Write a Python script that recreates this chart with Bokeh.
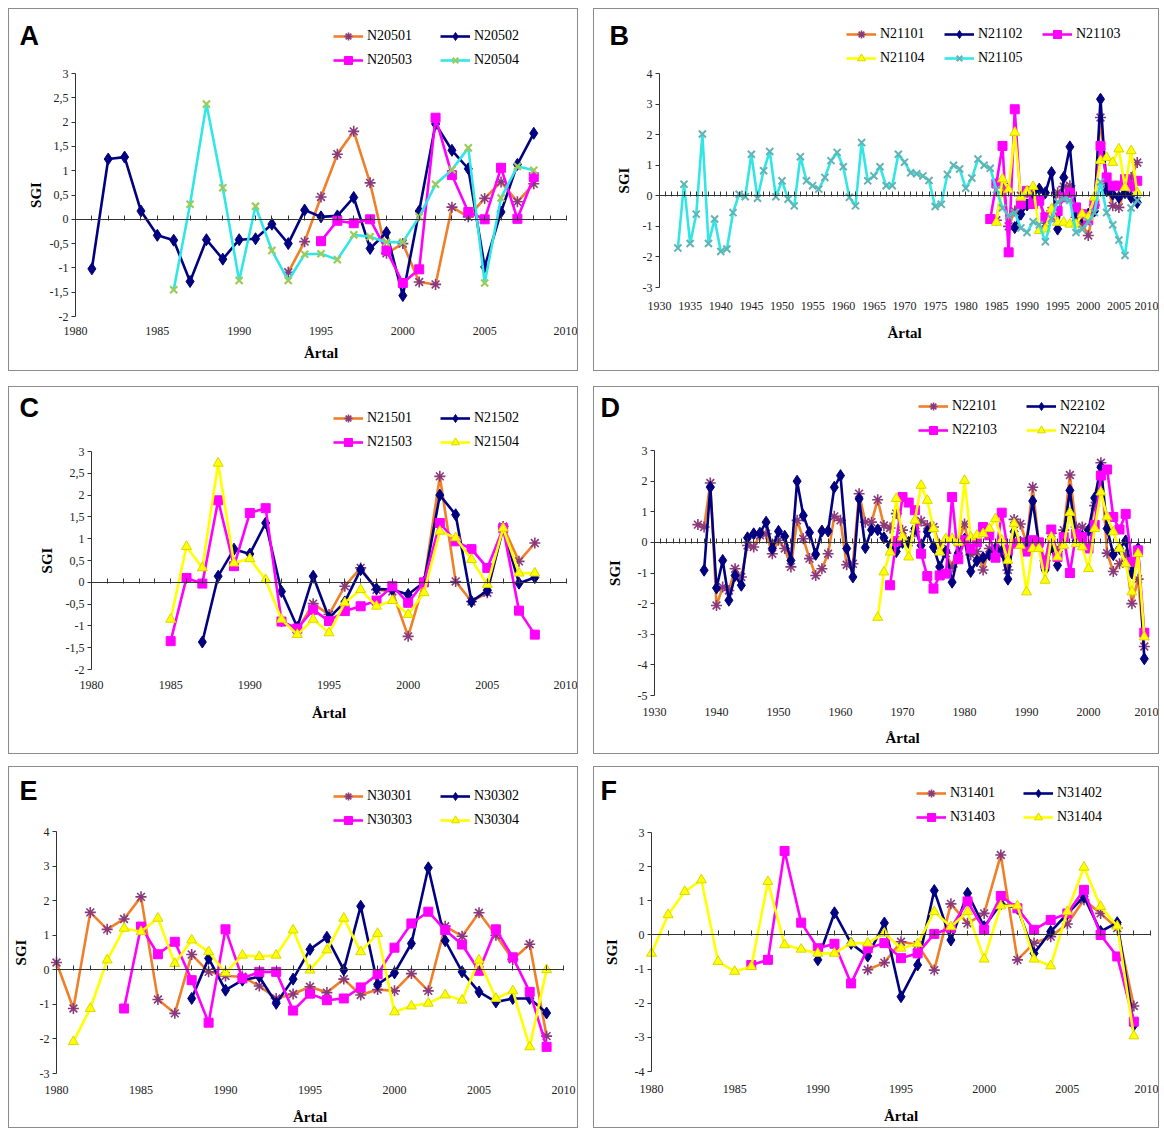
from bokeh.plotting import figure
from bokeh.models import (Range1d, LinearAxis, FixedTicker, CustomJSTickFormatter,
                          Legend, LegendItem, Label, ColumnDataSource)
from bokeh.layouts import row, column
from bokeh.embed import file_html
from bokeh.resources import INLINE

SERIF = "Liberation Serif"
SANS = "Liberation Sans"

# ---------------- data ----------------
# Panel A
A_NAMES = ["N20501", "N20502", "N20503", "N20504"]
A_START = [1993, 1981, 1995, 1986]
A_N20501 = [-1.09, -0.46, 0.46, 1.34, 1.81, 0.75, -0.70, -0.50, -1.29, -1.34, 0.25, 0.05, 0.43, 0.77, 0.36, 0.73]
A_N20502 = [-1.02, 1.24, 1.28, 0.17, -0.33, -0.43, -1.28, -0.42, -0.82, -0.42, -0.40, -0.10, -0.50, 0.19,
            0.05, 0.07, 0.45, -0.60, -0.27, -1.57, 0.17, 1.96, 1.42, 1.04, -0.98, 0.15, 1.13, 1.77]
A_N20503 = [-0.45, -0.03, -0.08, 0.00, -0.64, -1.31, -1.03, 2.09, 0.91, 0.15, 0.00, 1.06, 0.01, 0.87]
A_N20504 = [-1.45, 0.31, 2.37, 0.65, -1.26, 0.27, -0.64, -1.26, -0.72, -0.71, -0.83, -0.32, -0.36, -0.47,
            -0.47, 0.05, 0.72, 1.02, 1.47, -1.31, 0.44, 1.09, 1.01]
A_XTICKS = [1980, 1985, 1990, 1995, 2000, 2005, 2010]
A_YTICKS = [-2, -1.5, -1, -0.5, 0, 0.5, 1, 1.5, 2, 2.5, 3]

# Panel B
B_NAMES = ["N21101", "N21102", "N21103", "N21104", "N21105"]
B_START = [1985, 1988, 1984, 1985, 1933]
B_N21101 = [-0.80, 0.40, -1.00, -0.50, 0.00, 0.10, -0.20, -0.10, -0.90, -0.50, 0.10, 0.30, 0.33, -0.70,
            -0.90, -1.30, -0.30, 2.56, 0.40, -0.33, -0.38, 0.20, 0.60, 1.09]
B_N21102 = [-1.04, -0.60, -0.30, 0.10, 0.22, 0.10, 0.76, -1.09, 0.60, 1.60, -0.65, -0.70, -0.60, -0.50,
            3.16, 0.16, 0.05, -0.05, 0.10, -0.05, -0.22]
B_N21103 = [-0.76, 0.40, 1.63, -1.85, 2.83, -0.27, 0.16, -0.27, -0.16, -0.70, -0.70, -0.50, -0.05, 0.10,
            -0.38, -0.60, -0.80, -0.27, 1.63, 0.60, 0.33, 0.33, 0.55, 0.30, 0.49]
B_N21104 = [-0.87, 0.55, 0.20, 2.07, -0.05, 0.15, 0.30, -1.14, -1.09, -0.44, -0.87, -0.87, -0.93, -0.93,
            -0.60, -0.70, -0.05, 1.15, 1.25, 1.09, 1.53, 0.27, 1.47, 0.10]
B_N21105 = [-1.71, 0.38, -1.56, -0.60, 2.02, -1.56, -0.76, -1.82, -1.74, -0.55, 0.05, -0.03, 1.36, -0.08,
            0.82, 1.45, -0.03, 0.49, -0.11, -0.33, 1.28, 0.49, 0.33, 0.22, 0.60, 1.15, 1.42, 0.95,
            -0.05, -0.33, 1.74, 0.49, 0.65, 0.95, 0.33, 0.33, 1.36, 1.10, 0.75, 0.72, 0.65, 0.50,
            -0.35, -0.28, 0.70, 1.00, 0.88, 0.25, 0.58, 1.20, 1.00, 0.90, 0.20, -0.40, -0.65, -0.55,
            -1.05, -1.20, -0.85, -0.95, -1.50, -0.75, -0.20, -0.10, -0.15, -1.20, -1.10, -0.85, -0.55,
            0.45, -0.55, -0.95, -1.45, -1.95, -0.40, -0.15]
B_XTICKS = [1930, 1935, 1940, 1945, 1950, 1955, 1960, 1965, 1970, 1975, 1980, 1985, 1990, 1995, 2000, 2005, 2010]
B_YTICKS = [-3, -2, -1, 0, 1, 2, 3, 4]

# Panel C
C_NAMES = ["N21501", "N21502", "N21503", "N21504"]
C_START = [1992, 1987, 1985, 1985]
C_N21501 = [-0.90, -1.10, -0.49, -0.74, -0.09, 0.33, -0.17, -0.21, -1.24, 0.00, 2.43, 0.02, -0.44, -0.24,
            1.28, 0.48, 0.90]
C_N21502 = [-1.37, 0.14, 0.76, 0.65, 1.36, -0.21, -1.03, 0.14, -0.82, -0.45, 0.29, -0.15, -0.17, -0.28,
            0.00, 2.00, 1.55, -0.44, -0.19, 1.24, -0.02, 0.11]
C_N21503 = [-1.35, 0.10, -0.03, 1.88, 0.37, 1.59, 1.70, -0.90, -1.06, -0.63, -0.89, -0.66, -0.55, -0.42,
            -0.09, -0.47, 0.00, 1.36, 0.94, 0.76, 0.33, 1.24, -0.65, -1.20]
C_N21504 = [-0.85, 0.82, 0.33, 2.73, 0.44, 0.54, 0.06, -0.85, -1.20, -0.85, -1.16, -0.47, -0.17, -0.55,
            -0.42, -0.74, -0.24, 1.17, 1.02, 0.52, -0.05, 1.24, 0.21, 0.21]
C_XTICKS = [1980, 1985, 1990, 1995, 2000, 2005, 2010]
C_YTICKS = [-2, -1.5, -1, -0.5, 0, 0.5, 1, 1.5, 2, 2.5, 3]

# Panel D
D_NAMES = ["N22101", "N22102", "N22103", "N22104"]
D_START = [1937, 1938, 1968, 1966]
D_N22101 = [0.58, 0.50, 1.94, -2.06, -1.46, -1.57, -0.86, -1.13, -0.10, -0.15, 0.23, 0.28, -0.37, 0.07,
            -0.20, -0.80, 0.72, 0.12, -0.53, -1.08, -0.86, -0.37, 0.85, 0.72, -0.73, -0.70, 1.59, 0.66,
            0.66, 1.39, 0.55, 0.47, 0.94, 0.40, 0.00, 0.35, 0.70, 0.55, 0.50, -0.10, -0.35, -0.80,
            0.00, 0.60, -0.40, -0.30, -0.90, -0.20, -0.20, -0.20, -0.90, 0.75, 0.60, 0.00, 1.80, -0.05,
            -0.60, 0.30, -0.30, 0.40, 2.20, 0.50, 0.50, 0.30, 1.20, 2.60, -0.35, -0.95, -0.70, -0.40,
            -2.00, -1.20, -3.40]
D_N22102 = [-0.91, 1.80, -1.49, -0.59, -1.89, -1.08, -1.40, 0.15, 0.28, 0.30, 0.66, -0.20, 0.36, 0.20,
            -0.59, 2.00, 0.88, 0.32, -0.39, 0.37, 0.37, 1.80, 2.18, -0.20, -1.13, 1.42, -0.17, 0.41,
            0.41, 0.15, -0.10, -0.30, 0.00, 0.00, 0.45, -0.10, 0.35, -0.15, -0.80, -0.30, -1.30, -0.35,
            0.10, -0.95, -0.60, -0.50, -0.40, -0.20, -0.30, -1.20, 0.35, 0.00, 0.00, 1.35, -0.05, -0.90,
            -0.15, -0.75, 0.25, 1.70, 0.05, 0.20, 0.40, 1.45, 2.45, 0.45, -0.40, -0.20, 0.05, -1.00,
            -0.20, -3.80]
D_N22103 = [-1.40, 0.04, 1.48, 1.30, 1.05, -0.37, -1.10, -1.51, -1.08, -1.02, 1.48, -0.55, 0.07, -0.20,
            0.00, 0.50, 0.23, -0.50, 0.97, -0.26, -0.04, 0.00, -0.30, 0.07, 0.00, -0.70, 0.42, -0.48,
            0.17, -1.00, 0.28, 0.17, -0.20, 0.57, 2.18, 2.38, 0.83, 0.42, 0.93, -0.64, -0.26, -2.95]
D_N22104 = [-2.45, -0.97, -0.32, 1.43, 0.17, -0.48, 0.72, 1.86, 1.37, 0.45, -0.32, 0.12, 0.12, 0.00,
            2.02, 0.17, 0.23, 0.28, 0.45, 0.77, 0.07, -0.59, 0.61, -0.10, -1.62, -0.20, -0.20, -1.24,
            0.17, -0.48, -0.10, 0.97, -0.04, -0.15, -0.86, 0.45, 1.64, 0.83, 0.34, -0.20, -0.70, -1.62,
            -0.37, -3.09]
D_XTICKS = [1930, 1940, 1950, 1960, 1970, 1980, 1990, 2000, 2010]
D_YTICKS = [-5, -4, -3, -2, -1, 0, 1, 2, 3]

# Panel E
E_NAMES = ["N30301", "N30302", "N30303", "N30304"]
E_START = [1980, 1988, 1984, 1981]
E_N30301 = [0.21, -1.12, 1.66, 1.17, 1.47, 2.11, -0.86, -1.26, 0.44, -0.06, -0.18, -0.20, -0.47, -0.83,
            -0.70, -0.49, -0.66, -0.27, -0.73, -0.57, -0.61, -0.11, -0.61, 1.26, 0.97, 1.65, 1.00, 0.30,
            0.74, -1.92]
E_N30302 = [-0.83, 0.33, -0.59, -0.30, -0.20, -0.97, -0.27, 0.59, 0.94, 0.00, 1.84, -0.42, -0.09, 0.76,
            2.95, 0.84, -0.06, -0.64, -0.93, -0.83, -0.83, -1.25]
E_N30303 = [-1.12, 1.25, 0.45, 0.81, -0.30, -1.53, 1.17, -0.25, -0.06, -0.06, -1.18, -0.69, -0.88, -0.83,
            -0.51, -0.13, 0.64, 1.34, 1.68, 1.15, 0.73, -0.03, 1.17, 0.36, -0.64, -2.23]
E_N30304 = [-2.08, -1.12, 0.28, 1.20, 1.10, 1.49, 0.18, 0.86, 0.52, -0.09, 0.42, 0.38, 0.42, 1.15,
            -0.01, 0.57, 1.49, 0.52, 1.05, -1.22, -1.05, -0.97, -0.73, -0.88, 0.28, -0.83, -0.61, -2.23,
            0.00]
E_XTICKS = [1980, 1985, 1990, 1995, 2000, 2005, 2010]
E_YTICKS = [-3, -2, -1, 0, 1, 2, 3, 4]

# Panel F
F_NAMES = ["N31401", "N31402", "N31403", "N31404"]
F_START = [1993, 1990, 1986, 1980]
F_N31401 = [-1.02, -0.81, -0.20, -0.29, -1.03, 0.91, 0.34, 0.63, 2.34, -0.73, -0.24, -0.05, 0.32, 1.03,
            0.63, 0.20, -2.08]
F_N31402 = [-0.73, 0.65, -0.25, -0.62, 0.35, -1.81, -0.88, 1.30, -0.15, 1.22, 0.24, 0.91, 0.78, -0.54,
            0.10, 0.62, 1.12, 0.10, 0.36, -2.64]
F_N31403 = [-0.88, -0.73, 2.46, 0.36, -0.39, -0.26, -1.42, -0.39, -0.24, -0.68, -0.54, 0.03, 0.20, 0.98,
            0.15, 1.14, 0.78, 0.15, 0.44, 0.63, 1.32, 0.00, -0.63, -2.54]
F_N31404 = [-0.54, 0.59, 1.27, 1.61, -0.78, -1.07, -0.93, 1.56, -0.29, -0.42, -0.54, -0.54, -0.24, -0.24,
            0.05, -0.39, -0.26, 0.68, 0.24, 0.68, -0.71, 0.85, 0.85, -0.71, -0.91, 0.68, 1.98, 0.83,
            0.26, -2.96]
F_XTICKS = [1980, 1985, 1990, 1995, 2000, 2005, 2010]
F_YTICKS = [-4, -3, -2, -1, 0, 1, 2, 3]

# ---------------- styles ----------------
ORANGE = "#F07F2A"
NAVY = "#000080"
MAGENTA = "#FF00FF"
CYAN = "#33E6E6"
YELLOW = "#FFFF00"

STYLES = {
    "ast": dict(line=ORANGE, marker="asterisk", fill=None, mline="#8A3A7C", size=11, mlw=1.6),
    "dia": dict(line=NAVY, marker="diamond", fill=NAVY, mline=NAVY, size=12, mlw=1),
    "sq": dict(line=MAGENTA, marker="square", fill=MAGENTA, mline=MAGENTA, size=9, mlw=1),
    "tri": dict(line=YELLOW, marker="triangle", fill=YELLOW, mline="#D8D800", size=10, mlw=1),
    "xa": dict(line=CYAN, marker="x", fill=None, mline="#9CCB5A", size=10, mlw=2.2),
    "xb": dict(line=CYAN, marker="x", fill=None, mline="#62B4B4", size=10, mlw=2),
}

# layout (pixels inside each panel): frame of the data axes and positions of letter / legend
PANELS = [
    dict(letter="A", w=570, h=363, left=66, right=13, top=64, fh=243, xr=(1980, 2010), yr=(-2, 3),
         xticks=A_XTICKS, yticks=A_YTICKS, names=A_NAMES, starts=A_START,
         values=[A_N20501, A_N20502, A_N20503, A_N20504], kinds=["ast", "dia", "sq", "xa"],
         lpos=(10, 11), legpos=(324, 17), ncols=2, lw=69, ystand=3, xstand=10, xlstand=7),
    dict(letter="B", w=566, h=363, left=65, right=11, top=64, fh=214, xr=(1930, 2010), yr=(-3, 4),
         xticks=B_XTICKS, yticks=B_YTICKS, names=B_NAMES, starts=B_START,
         values=[B_N21101, B_N21102, B_N21103, B_N21104, B_N21105], kinds=["ast", "dia", "sq", "tri", "xb"],
         lpos=(15, 11), legpos=(252, 15), ncols=3, lw=60, ystand=8, xstand=14, xlstand=12),
    dict(letter="C", w=570, h=368, left=82, right=13, top=64, fh=218, xr=(1980, 2010), yr=(-2, 3),
         xticks=C_XTICKS, yticks=C_YTICKS, names=C_NAMES, starts=C_START,
         values=[C_N21501, C_N21502, C_N21503, C_N21504], kinds=["ast", "dia", "sq", "tri"],
         lpos=(10, 5), legpos=(324, 21), ncols=2, lw=69, ystand=8, xstand=11, xlstand=13),
    dict(letter="D", w=566, h=368, left=60, right=10, top=63, fh=245, xr=(1930, 2010), yr=(-5, 3),
         xticks=D_XTICKS, yticks=D_YTICKS, names=D_NAMES, starts=D_START,
         values=[D_N22101, D_N22102, D_N22103, D_N22104], kinds=["ast", "dia", "sq", "tri"],
         lpos=(6, 5), legpos=(324, 9), ncols=2, lw=70, ystand=12, xstand=12, xlstand=11),
    dict(letter="E", w=570, h=362, left=47, right=16, top=64, fh=242, xr=(1980, 2010), yr=(-3, 4),
         xticks=E_XTICKS, yticks=E_YTICKS, names=E_NAMES, starts=E_START,
         values=[E_N30301, E_N30302, E_N30303, E_N30304], kinds=["ast", "dia", "sq", "tri"],
         lpos=(10, 8), legpos=(324, 19), ncols=2, lw=69, ystand=8, xstand=12, xlstand=12),
    dict(letter="F", w=566, h=362, left=57, right=10, top=65, fh=239, xr=(1980, 2010), yr=(-4, 3),
         xticks=F_XTICKS, yticks=F_YTICKS, names=F_NAMES, starts=F_START,
         values=[F_N31401, F_N31402, F_N31403, F_N31404], kinds=["ast", "dia", "sq", "tri"],
         lpos=(6, 8), legpos=(322, 16), ncols=2, lw=69, ystand=12, xstand=13, xlstand=12),
]

AXIS_COLOR = "#333333"


def make_panel(c):
    w, h = c["w"], c["h"]
    xa, xb = c["xr"]
    ya, yb = c["yr"]
    fw = w - c["left"] - c["right"]
    sx = fw / (xb - xa)
    sy = c["fh"] / (yb - ya)
    # the plot frame covers the whole panel; axes are drawn at fixed locations
    x_range = Range1d(xa - c["left"] / sx, xb + c["right"] / sx)
    y_range = Range1d(ya - (h - c["top"] - c["fh"]) / sy, yb + c["top"] / sy)

    p = figure(width=w, height=h, output_backend="svg", toolbar_location=None,
               x_range=x_range, y_range=y_range, x_axis_type=None, y_axis_type=None,
               min_border=0)
    p.title.visible = False
    p.outline_line_color = None
    p.background_fill_color = "white"
    p.border_fill_color = "white"
    p.styles = {"border": "1px solid #8c8c8c"}

    yax = LinearAxis(fixed_location=xa, bounds=(ya, yb), ticker=FixedTicker(ticks=c["yticks"]),
                     formatter=CustomJSTickFormatter(code="return tick.toString().replace('.', ',')"),
                     axis_label="SGI", axis_label_standoff=c["ystand"],
                     axis_label_text_font=SERIF, axis_label_text_font_style="bold",
                     axis_label_text_font_size="15px", axis_label_text_color="black",
                     major_label_text_font=SERIF, major_label_text_font_size="12px",
                     major_label_text_color="#222222", major_label_standoff=3,
                     axis_line_color=AXIS_COLOR, major_tick_line_color=AXIS_COLOR,
                     major_tick_out=4, major_tick_in=0, minor_tick_line_color=None)
    p.add_layout(yax, "left")

    xlab = LinearAxis(fixed_location=ya, bounds=(xa, xb), ticker=FixedTicker(ticks=c["xticks"]),
                      axis_label="Årtal", axis_label_standoff=c["xlstand"],
                      axis_label_text_font=SERIF, axis_label_text_font_style="bold",
                      axis_label_text_font_size="15px", axis_label_text_color="black",
                      major_label_text_font=SERIF, major_label_text_font_size="12px",
                      major_label_text_color="#222222", major_label_standoff=c["xstand"],
                      major_tick_in=0, major_tick_out=0,
                      axis_line_color=None, major_tick_line_color=None, minor_tick_line_color=None)
    p.add_layout(xlab, "below")

    # zero line with a small tick at every year (minor ticks only: no labels)
    years_all = list(range(xa, xb + 1))
    zax = LinearAxis(fixed_location=0, bounds=(xa, xb), ticker=FixedTicker(ticks=[], minor_ticks=years_all),
                     axis_line_color=AXIS_COLOR, major_tick_line_color=None,
                     minor_tick_line_color=AXIS_COLOR, minor_tick_in=4, minor_tick_out=1)
    p.add_layout(zax, "below")

    items = []
    for name, start, vals, kind in zip(c["names"], c["starts"], c["values"], c["kinds"]):
        s = STYLES[kind]
        src = ColumnDataSource(dict(x=list(range(start, start + len(vals))), y=vals))
        lr = p.line("x", "y", source=src, line_color=s["line"], line_width=2.6)
        sr = p.scatter("x", "y", source=src, marker=s["marker"], size=s["size"],
                       fill_color=s["fill"], line_color=s["mline"], line_width=s["mlw"])
        items.append(LegendItem(label=name, renderers=[lr, sr]))

    ncols = c["ncols"]
    nrows = (len(items) + ncols - 1) // ncols
    leg_h = nrows * 20 + (nrows - 1) * 4
    leg = Legend(items=items, location=(c["legpos"][0], h - (c["legpos"][1] + leg_h)),
                 orientation="horizontal", ncols=ncols,
                 glyph_width=30, glyph_height=20, label_standoff=4, spacing=4, padding=0, margin=0,
                 label_width=c["lw"], border_line_color=None, background_fill_alpha=0,
                 label_text_font=SERIF, label_text_font_size="14px", label_text_color="black")
    p.add_layout(leg, "center")

    lab = Label(x=c["lpos"][0], y=h - c["lpos"][1], x_units="screen", y_units="screen",
                text=c["letter"], text_font=SANS, text_font_style="bold", text_font_size="27px",
                text_baseline="top", text_align="left", text_color="black")
    p.add_layout(lab)
    return p


figs = [make_panel(c) for c in PANELS]
layout = column(row(figs[0], figs[1], spacing=15),
                row(figs[2], figs[3], spacing=15),
                row(figs[4], figs[5], spacing=15), spacing=0)
layout.children[0].styles = {"margin-bottom": "15px"}
layout.children[1].styles = {"margin-bottom": "12px"}
layout.styles = {"margin-left": "8px", "margin-top": "8px"}

open("out.html", "w").write(file_html(layout, INLINE))
